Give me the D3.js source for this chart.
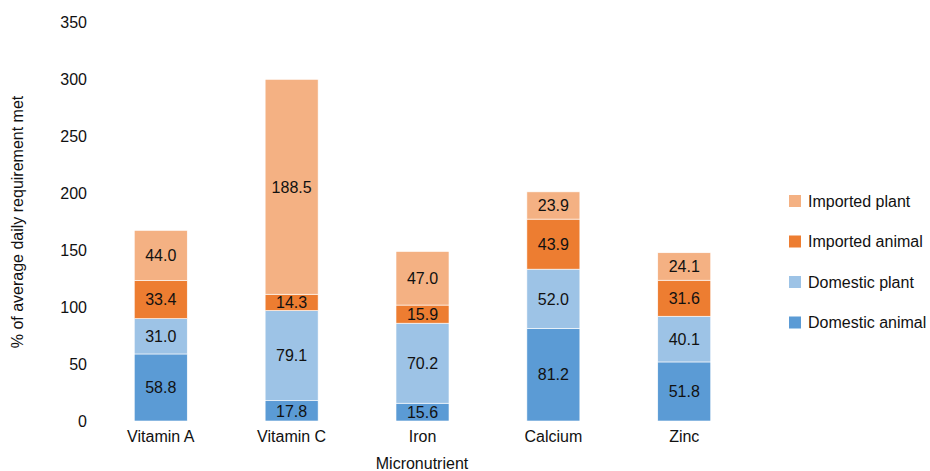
<!DOCTYPE html>
<html>
  <head>
    <title>Micronutrient stacked bars</title>
    <script src="https://cdn.jsdelivr.net/npm/d3@7"></script>
    <style>
      body { margin: 0; background: #fff; }
      text { font-family: "Liberation Sans", Arial, sans-serif; fill: #111; }
    </style>
  </head>
  <body>
    <div id="main"></div>
    <script>
      var WIDTH = 930, HEIGHT = 471, FONT = 16;

      var nutrients = ["Vitamin A", "Vitamin C", "Iron", "Calcium", "Zinc"];
      var series = ["Domestic animal", "Domestic plant", "Imported animal", "Imported plant"];
      var domesticAnimal = [58.8, 17.8, 15.6, 81.2, 51.8];
      var domesticPlant = [31.0, 79.1, 70.2, 52.0, 40.1];
      var importedAnimal = [33.4, 14.3, 15.9, 43.9, 31.6];
      var importedPlant = [44.0, 188.5, 47.0, 23.9, 24.1];
      var yTicks = [0, 50, 100, 150, 200, 250, 300, 350];
      var colors = ["#5b9bd5", "#9dc3e6", "#ed7d31", "#f4b183"];

      var values = [domesticAnimal, domesticPlant, importedAnimal, importedPlant];
      var rows = nutrients.map(function(n, i) {
        var r = { name: n };
        series.forEach(function(s, j) { r[s] = values[j][i]; });
        return r;
      });

      var svg = d3.select('#main').append('svg')
                  .attr('width', WIDTH).attr('height', HEIGHT);

      var x = d3.scaleBand().domain(nutrients).range([95, 750])
                .paddingInner(0.595).paddingOuter(0.3);
      var y = d3.scaleLinear().domain([0, 350]).range([421, 22]);

      var stack = d3.stack().keys(series)(rows);

      var layer = svg.selectAll('.layer').data(stack).enter()
        .append('g').attr('class', 'layer')
        .attr('fill', function(d, i) { return colors[i]; });

      layer.selectAll('rect').data(function(d) { return d; }).enter()
        .append('rect')
          .attr('x', function(d) { return x(d.data.name); })
          .attr('width', x.bandwidth())
          .attr('y', function(d) { return y(d[1]); })
          .attr('height', function(d) { return y(d[0]) - y(d[1]); })
          .attr('stroke', '#fff').attr('stroke-width', 0.6);

      layer.selectAll('text').data(function(d) { return d; }).enter()
        .append('text')
          .attr('x', function(d) { return x(d.data.name) + x.bandwidth() / 2; })
          .attr('y', function(d) { return (y(d[0]) + y(d[1])) / 2; })
          .attr('dy', '0.36em')
          .attr('text-anchor', 'middle')
          .attr('font-size', FONT)
          .text(function(d) { return (d[1] - d[0]).toFixed(1); });

      // axes without lines
      var yAxis = svg.append('g').attr('transform', 'translate(87,0)')
        .call(d3.axisLeft(y).tickValues(yTicks).tickSize(0).tickPadding(0));
      yAxis.select('.domain').remove();
      yAxis.selectAll('text').attr('font-size', FONT).attr('fill', '#111')
        .style('font-family', '"Liberation Sans", Arial, sans-serif');

      var xAxis = svg.append('g').attr('transform', 'translate(0,431)')
        .call(d3.axisBottom(x).tickSize(0).tickPadding(0));
      xAxis.select('.domain').remove();
      xAxis.selectAll('text').attr('font-size', FONT).attr('fill', '#111')
        .attr('dy', '0.71em')
        .style('font-family', '"Liberation Sans", Arial, sans-serif');

      svg.append('text')
        .attr('x', 422).attr('y', 469)
        .attr('text-anchor', 'middle').attr('font-size', FONT)
        .text('Micronutrient');

      svg.append('text')
        .attr('transform', 'translate(23,222) rotate(-90)')
        .attr('text-anchor', 'middle').attr('font-size', FONT)
        .text('% of average daily requirement met');

      // legend, top entry is the top of the stack
      var legendOrder = series.slice().reverse();
      var legend = svg.selectAll('.legend').data(legendOrder).enter()
        .append('g').attr('class', 'legend')
        .attr('transform', function(d, i) { return 'translate(789,' + (201 + i * 40.5) + ')'; });
      legend.append('rect')
        .attr('x', 0).attr('y', -6).attr('width', 12).attr('height', 12)
        .attr('fill', function(d) { return colors[series.indexOf(d)]; });
      legend.append('text')
        .attr('x', 19).attr('dy', '0.36em').attr('font-size', FONT)
        .text(function(d) { return d; });
    </script>
  </body>
</html>
